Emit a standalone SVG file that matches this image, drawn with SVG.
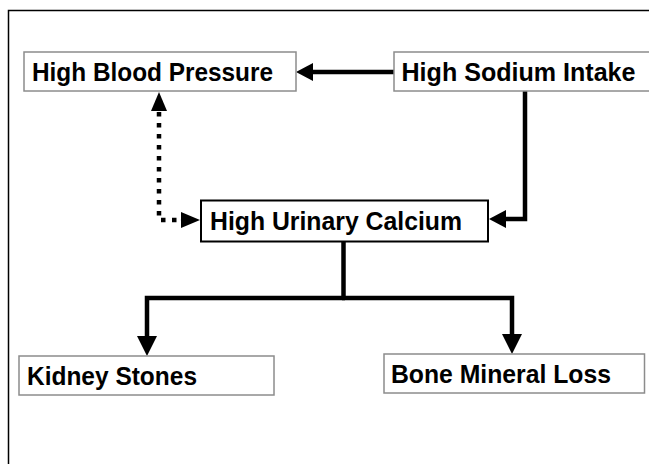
<svg xmlns="http://www.w3.org/2000/svg" width="649" height="464" viewBox="0 0 649 464">
  <style>
    .box { fill: #ffffff; stroke: #8c8c8c; stroke-width: 1.5; }
    .box-main { fill: #ffffff; stroke: #000000; stroke-width: 2; }
    .label { font-family: "Liberation Sans", "Open Sans", sans-serif; font-weight: bold; font-size: 25px; fill: #000000; }
    .conn { fill: none; stroke: #000000; stroke-width: 4.5; stroke-linejoin: miter; }
    .dotted { fill: none; stroke: #000000; stroke-width: 4.5; stroke-dasharray: 4.5 6.5; }
  </style>
  <defs>
    <marker id="arrow" markerUnits="userSpaceOnUse" viewBox="0 0 17 18" refX="0" refY="9" markerWidth="17" markerHeight="18" orient="auto">
      <path d="M0,0 L17,9 L0,18 Z" fill="#000000"/>
    </marker>
    <marker id="arrow-small" markerUnits="userSpaceOnUse" viewBox="0 0 19 16" refX="0" refY="8" markerWidth="19" markerHeight="16" orient="auto">
      <path d="M0,0 L19,8 L0,16 Z" fill="#000000"/>
    </marker>
    <marker id="arrow-down" markerUnits="userSpaceOnUse" viewBox="0 0 20 20" refX="0" refY="10" markerWidth="20" markerHeight="20" orient="auto">
      <path d="M0,0 L20,10 L0,20 Z" fill="#000000"/>
    </marker>
  </defs>
  <rect x="0" y="0" width="649" height="464" fill="#ffffff"/>
  <rect id="frame" x="8.5" y="10.5" width="700" height="500" fill="none" stroke="#000000" stroke-width="1.5"/>

  <g id="connectors">
    <!-- High Sodium Intake -> High Blood Pressure -->
    <path class="conn" d="M394,72 L313,72" marker-end="url(#arrow)"/>
    <!-- High Sodium Intake -> High Urinary Calcium -->
    <path class="conn" d="M525,91 L525,219 L506,219" marker-end="url(#arrow)"/>
    <!-- dotted: High Blood Pressure <-> High Urinary Calcium -->
    <path class="dotted" d="M159,112 L159,220 L181,220"/>
    <path d="M159,112 L159,111" fill="none" stroke="#000" stroke-width="0.1" marker-end="url(#arrow-small)"/>
    <path d="M180,220 L181,220" fill="none" stroke="#000" stroke-width="0.1" marker-end="url(#arrow-small)"/>
    <!-- High Urinary Calcium -> Kidney Stones / Bone Mineral Loss -->
    <path class="conn" d="M343.5,242 L343.5,298"/>
    <path class="conn" d="M345,298 L147,298 L147,336" marker-end="url(#arrow-down)"/>
    <path class="conn" d="M342,298 L512,298 L512,334" marker-end="url(#arrow-down)"/>
  </g>

  <g id="node-high-blood-pressure">
    <rect class="box" x="24" y="52" width="272" height="39"/>
    <text class="label" x="32" y="80.5" textLength="241" lengthAdjust="spacingAndGlyphs">High Blood Pressure</text>
  </g>
  <g id="node-high-sodium-intake">
    <rect class="box" x="394" y="52" width="270" height="39"/>
    <text class="label" x="401.5" y="80.5" textLength="234" lengthAdjust="spacingAndGlyphs">High Sodium Intake</text>
  </g>
  <g id="node-high-urinary-calcium">
    <rect class="box-main" x="201" y="200.5" width="287" height="41"/>
    <text class="label" x="210" y="230" textLength="252" lengthAdjust="spacingAndGlyphs">High Urinary Calcium</text>
  </g>
  <g id="node-kidney-stones">
    <rect class="box" x="19" y="356" width="255" height="39"/>
    <text class="label" x="27" y="384.5" textLength="170" lengthAdjust="spacingAndGlyphs">Kidney Stones</text>
  </g>
  <g id="node-bone-mineral-loss">
    <rect class="box" x="384" y="354" width="260.5" height="39"/>
    <text class="label" x="391" y="382.5" textLength="220" lengthAdjust="spacingAndGlyphs">Bone Mineral Loss</text>
  </g>
</svg>
